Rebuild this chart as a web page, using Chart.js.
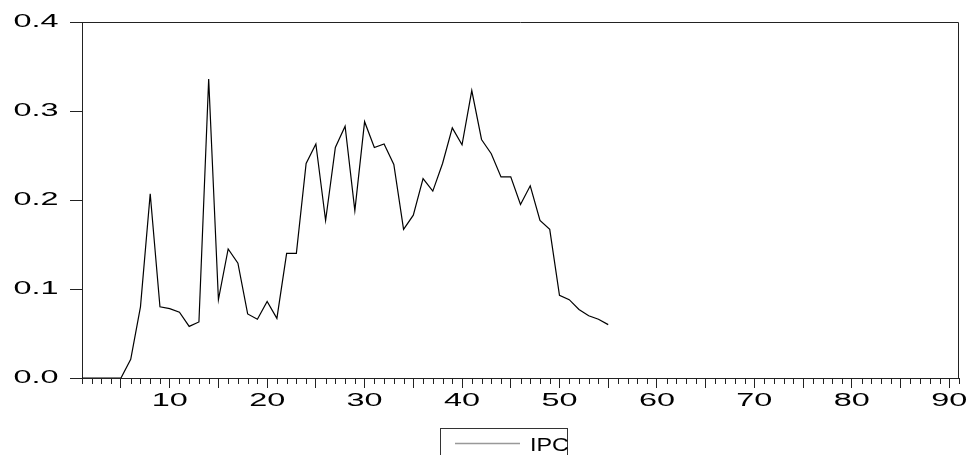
<!DOCTYPE html>
<html>
<head>
<meta charset="utf-8">
<script src="https://cdn.jsdelivr.net/npm/chart.js@4"></script>
<style>
  html, body { margin: 0; padding: 0; background: #fff; }
  #wrap { width: 966px; height: 455px; }
</style>
</head>
<body>
<div id="wrap"><canvas id="ipcChart" width="966" height="455"></canvas></div>
<script>
// periods 1..55 and the IPC series
const periods = [1, 2, 3, 4, 5, 6, 7, 8, 9, 10, 11, 12, 13, 14, 15, 16, 17, 18, 19, 20,
    21, 22, 23, 24, 25, 26, 27, 28, 29, 30, 31, 32, 33, 34, 35, 36, 37, 38, 39, 40,
    41, 42, 43, 44, 45, 46, 47, 48, 49, 50, 51, 52, 53, 54, 55];
const ipc = [0, 0, 0, 0, 0, 0.021, 0.080, 0.207, 0.080, 0.078,
    0.074, 0.058, 0.063, 0.336, 0.088, 0.145, 0.129, 0.072, 0.066, 0.086,
    0.067, 0.140, 0.140, 0.241, 0.263, 0.177, 0.259, 0.283, 0.188, 0.288,
    0.259, 0.263, 0.240, 0.167, 0.183, 0.224, 0.210, 0.241, 0.281, 0.262,
    0.323, 0.268, 0.252, 0.226, 0.226, 0.195, 0.216, 0.177, 0.167, 0.093,
    0.088, 0.077, 0.070, 0.066, 0.060];
const xLabels = [10, 20, 30, 40, 50, 60, 70, 80, 90];
const yLabels = [0, 0.1, 0.2, 0.3, 0.4];
const seriesName = 'IPC';

const FONT = '18px "Liberation Sans", Arial, sans-serif';
const STRETCH = 1.8; // eviews output is stretched sideways

function wideText(ctx, text, x, y, align, sx) {
    ctx.save();
    ctx.translate(x, y);
    ctx.scale(sx, 1);
    ctx.textAlign = align;
    ctx.textBaseline = 'alphabetic';
    ctx.fillText(text, 0, 0);
    ctx.restore();
}

// frame, minor ticks, stretched labels and the boxed legend
const evStyle = {
    id: 'evStyle',
    afterDraw(chart) {
        const ctx = chart.ctx;
        const a = chart.chartArea;
        const xs = chart.scales.x;
        const ys = chart.scales.y;

        ctx.save();
        ctx.strokeStyle = '#222';
        ctx.lineWidth = 1;
        ctx.beginPath();
        ctx.moveTo(Math.round(a.left) + 0.5, Math.round(a.top) + 0.5);
        ctx.lineTo(Math.round(a.right) - 0.5, Math.round(a.top) + 0.5);
        ctx.lineTo(Math.round(a.right) - 0.5, Math.round(a.bottom) + 0.5);
        ctx.stroke();

        // minor ticks on every period
        ctx.beginPath();
        for (let v = xs.min; v <= xs.max; v++) {
            if (v % 5 === 0) continue;
            const px = Math.round(xs.getPixelForValue(v)) + 0.5;
            ctx.moveTo(px, a.bottom);
            ctx.lineTo(px, a.bottom + 6);
        }
        ctx.stroke();

        ctx.fillStyle = '#000';
        ctx.font = FONT;
        yLabels.forEach(v => {
            wideText(ctx, v.toFixed(1), 58.5, ys.getPixelForValue(v) + 5, 'right', STRETCH);
        });
        xLabels.forEach(v => {
            wideText(ctx, String(v), xs.getPixelForValue(v), 406, 'center', STRETCH);
        });

        // legend
        ctx.strokeStyle = '#333';
        ctx.strokeRect(440.5, 428.5, 127, 40);
        ctx.strokeStyle = '#999';
        ctx.lineWidth = 1.5;
        ctx.beginPath();
        ctx.moveTo(455, 443.5);
        ctx.lineTo(520, 443.5);
        ctx.stroke();
        ctx.fillStyle = '#000';
        wideText(ctx, chart.data.datasets[0].label, 530, 451, 'left', 1.3);
        ctx.restore();
    }
};

const ctx = document.getElementById('ipcChart').getContext('2d');
const ipcChart = new Chart(ctx, {
    type: 'line',
    data: {
        datasets: [{
            label: seriesName,
            data: periods.map((p, i) => ({ x: p, y: ipc[i] })),
            borderColor: '#000',
            borderWidth: 1.2,
            pointRadius: 0,
            tension: 0,
            fill: false
        }]
    },
    options: {
        responsive: false,
        animation: false,
        layout: { padding: { top: 22, right: 7, left: 0, bottom: 0 } },
        plugins: {
            legend: { display: false },
            tooltip: { enabled: false }
        },
        scales: {
            x: {
                type: 'linear',
                min: 1,
                max: 91,
                afterBuildTicks: scale => {
                    scale.ticks = scale.ticks.filter(t => t.value % 5 === 0);
                },
                afterFit: scale => { scale.height = 77; },
                ticks: { display: false, stepSize: 1 },
                grid: {
                    drawOnChartArea: false,
                    tickLength: 10,
                    tickColor: '#222'
                },
                border: { color: '#222', width: 1 }
            },
            y: {
                min: 0,
                max: 0.4,
                afterFit: scale => { scale.width = 82; },
                ticks: { display: false, stepSize: 0.1 },
                grid: {
                    drawOnChartArea: false,
                    tickLength: 12,
                    tickColor: '#222'
                },
                border: { color: '#222', width: 1 }
            }
        }
    },
    plugins: [evStyle]
});
</script>
</body>
</html>
